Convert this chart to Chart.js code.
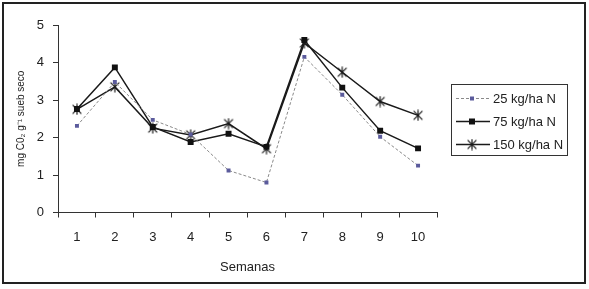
<!DOCTYPE html>
<html>
<head>
<meta charset="utf-8">
<script src="https://cdn.jsdelivr.net/npm/chart.js@4/dist/chart.umd.min.js"></script>
<style>
  html, body { margin: 0; padding: 0; background: #fff; overflow: hidden; }
  #wrap { position: relative; width: 589px; height: 289px; }
</style>
</head>
<body>
<div id="wrap"><canvas id="grafico"></canvas></div>
<script>
// Datos
const semanas = ['1', '2', '3', '4', '5', '6', '7', '8', '9', '10'];
const n25 = [2.31, 3.48, 2.47, 2.08, 1.12, 0.80, 4.15, 3.14, 2.02, 1.25];
const n75 = [2.76, 3.87, 2.28, 1.88, 2.10, 1.75, 4.60, 3.33, 2.18, 1.71];
const n150 = [2.75, 3.35, 2.25, 2.07, 2.37, 1.70, 4.52, 3.74, 2.96, 2.59];
const etiquetas = ['25 kg/ha N', '75 kg/ha N', '150 kg/ha N'];

const fuente = '"Liberation Sans", Arial, sans-serif';

// marcador tipo asterisco (X con barra vertical)
function hacerAsterisco(tam) {
    const c = document.createElement('canvas');
    c.width = tam; c.height = tam;
    const g = c.getContext('2d');
    const m = tam / 2, r = tam / 2 - 0.5;
    g.strokeStyle = '#1a1a1a';
    g.lineWidth = 1.2;
    g.beginPath();
    g.moveTo(m - r * 0.8, m - r * 0.8); g.lineTo(m + r * 0.8, m + r * 0.8);
    g.moveTo(m + r * 0.8, m - r * 0.8); g.lineTo(m - r * 0.8, m + r * 0.8);
    g.moveTo(m, m - r); g.lineTo(m, m + r);
    g.stroke();
    return c;
}
const asterisco = hacerAsterisco(12);

const marcoPlugin = {
    id: 'marco',
    beforeDraw(chart) {
        const ctx = chart.ctx;
        ctx.save();
        ctx.fillStyle = '#fff';
        ctx.fillRect(0, 0, chart.width, chart.height);
        ctx.strokeStyle = '#222';
        ctx.lineWidth = 2;
        ctx.strokeRect(3, 3, 582, 280);
        ctx.restore();
    }
};

const leyendaPlugin = {
    id: 'leyenda',
    afterDraw(chart) {
        const ctx = chart.ctx;
        ctx.save();
        ctx.strokeStyle = '#333';
        ctx.lineWidth = 1;
        ctx.strokeRect(451.5, 84.5, 116, 71);
        const filas = [98, 121, 144];
        ctx.font = '13px ' + fuente;
        ctx.textBaseline = 'middle';
        filas.forEach(function(y, i) {
            const ds = chart.data.datasets[i];
            ctx.beginPath();
            ctx.strokeStyle = ds.borderColor;
            ctx.lineWidth = ds.borderWidth;
            ctx.setLineDash(ds.borderDash || []);
            ctx.moveTo(456, y + 0.5);
            ctx.lineTo(490, y + 0.5);
            ctx.stroke();
            ctx.setLineDash([]);
            if (i === 0) {
                ctx.fillStyle = '#5b5b9c';
                ctx.fillRect(470, y - 1.5, 4, 4);
            } else if (i === 1) {
                ctx.fillStyle = '#111';
                ctx.fillRect(469, y - 2.5, 6, 6);
            } else {
                ctx.drawImage(asterisco, 466, y - 5.5);
            }
            ctx.fillStyle = '#222';
            ctx.fillText(etiquetas[i], 493, y + 1);
        });
        ctx.restore();
    }
};

document.addEventListener('DOMContentLoaded', function() {
    const ctx = document.getElementById('grafico').getContext('2d');
    new Chart(ctx, {
        type: 'line',
        data: {
            labels: semanas,
            datasets: [
                {
                    label: etiquetas[0],
                    data: n25,
                    borderColor: '#8a8a8a',
                    borderWidth: 1,
                    borderDash: [3, 2],
                    pointStyle: 'rect',
                    pointRadius: 2.8,
                    pointBackgroundColor: '#5b5b9c',
                    pointBorderColor: '#5b5b9c',
                    pointBorderWidth: 0,
                    tension: 0
                },
                {
                    label: etiquetas[1],
                    data: n75,
                    borderColor: '#1a1a1a',
                    borderWidth: 1.5,
                    pointStyle: 'rect',
                    pointRadius: 4.2,
                    pointBackgroundColor: '#111',
                    pointBorderColor: '#111',
                    pointBorderWidth: 0,
                    tension: 0
                },
                {
                    label: etiquetas[2],
                    data: n150,
                    borderColor: '#1a1a1a',
                    borderWidth: 1.5,
                    pointStyle: asterisco,
                    pointRadius: 6,
                    tension: 0
                }
            ]
        },
        options: {
            responsive: true,
            maintainAspectRatio: false,
            animation: false,
            layout: { padding: { left: 0, top: 25, right: 152, bottom: 14 } },
            plugins: {
                legend: { display: false },
                tooltip: { enabled: false }
            },
            scales: {
                x: {
                    offset: true,
                    grid: {
                        display: true,
                        offset: true,
                        drawOnChartArea: false,
                        drawTicks: true,
                        tickLength: 5,
                        color: '#333'
                    },
                    border: { display: true, color: '#333', width: 1 },
                    ticks: {
                        color: '#222',
                        padding: 12,
                        maxRotation: 0,
                        font: { family: fuente, size: 13 }
                    },
                    title: {
                        display: true,
                        text: 'Semanas',
                        color: '#222',
                        padding: 0,
                        font: { family: fuente, size: 13 }
                    },
                    afterFit: function(scale) { scale.height = 62.5; }
                },
                y: {
                    min: 0,
                    max: 5,
                    ticks: {
                        stepSize: 1,
                        color: '#222',
                        padding: 9,
                        font: { family: fuente, size: 13 }
                    },
                    grid: {
                        display: true,
                        drawOnChartArea: false,
                        drawTicks: true,
                        tickLength: 5,
                        color: '#333'
                    },
                    border: { display: true, color: '#333', width: 1 },
                    title: {
                        display: true,
                        text: 'mg C0₂ g⁻¹ sueb seco',
                        color: '#222',
                        padding: { top: 15, bottom: 0 },
                        font: { family: fuente, size: 10 }
                    },
                    afterFit: function(scale) { scale.width = 58; }
                }
            }
        },
        plugins: [marcoPlugin, leyendaPlugin]
    });
});
</script>
</body>
</html>
